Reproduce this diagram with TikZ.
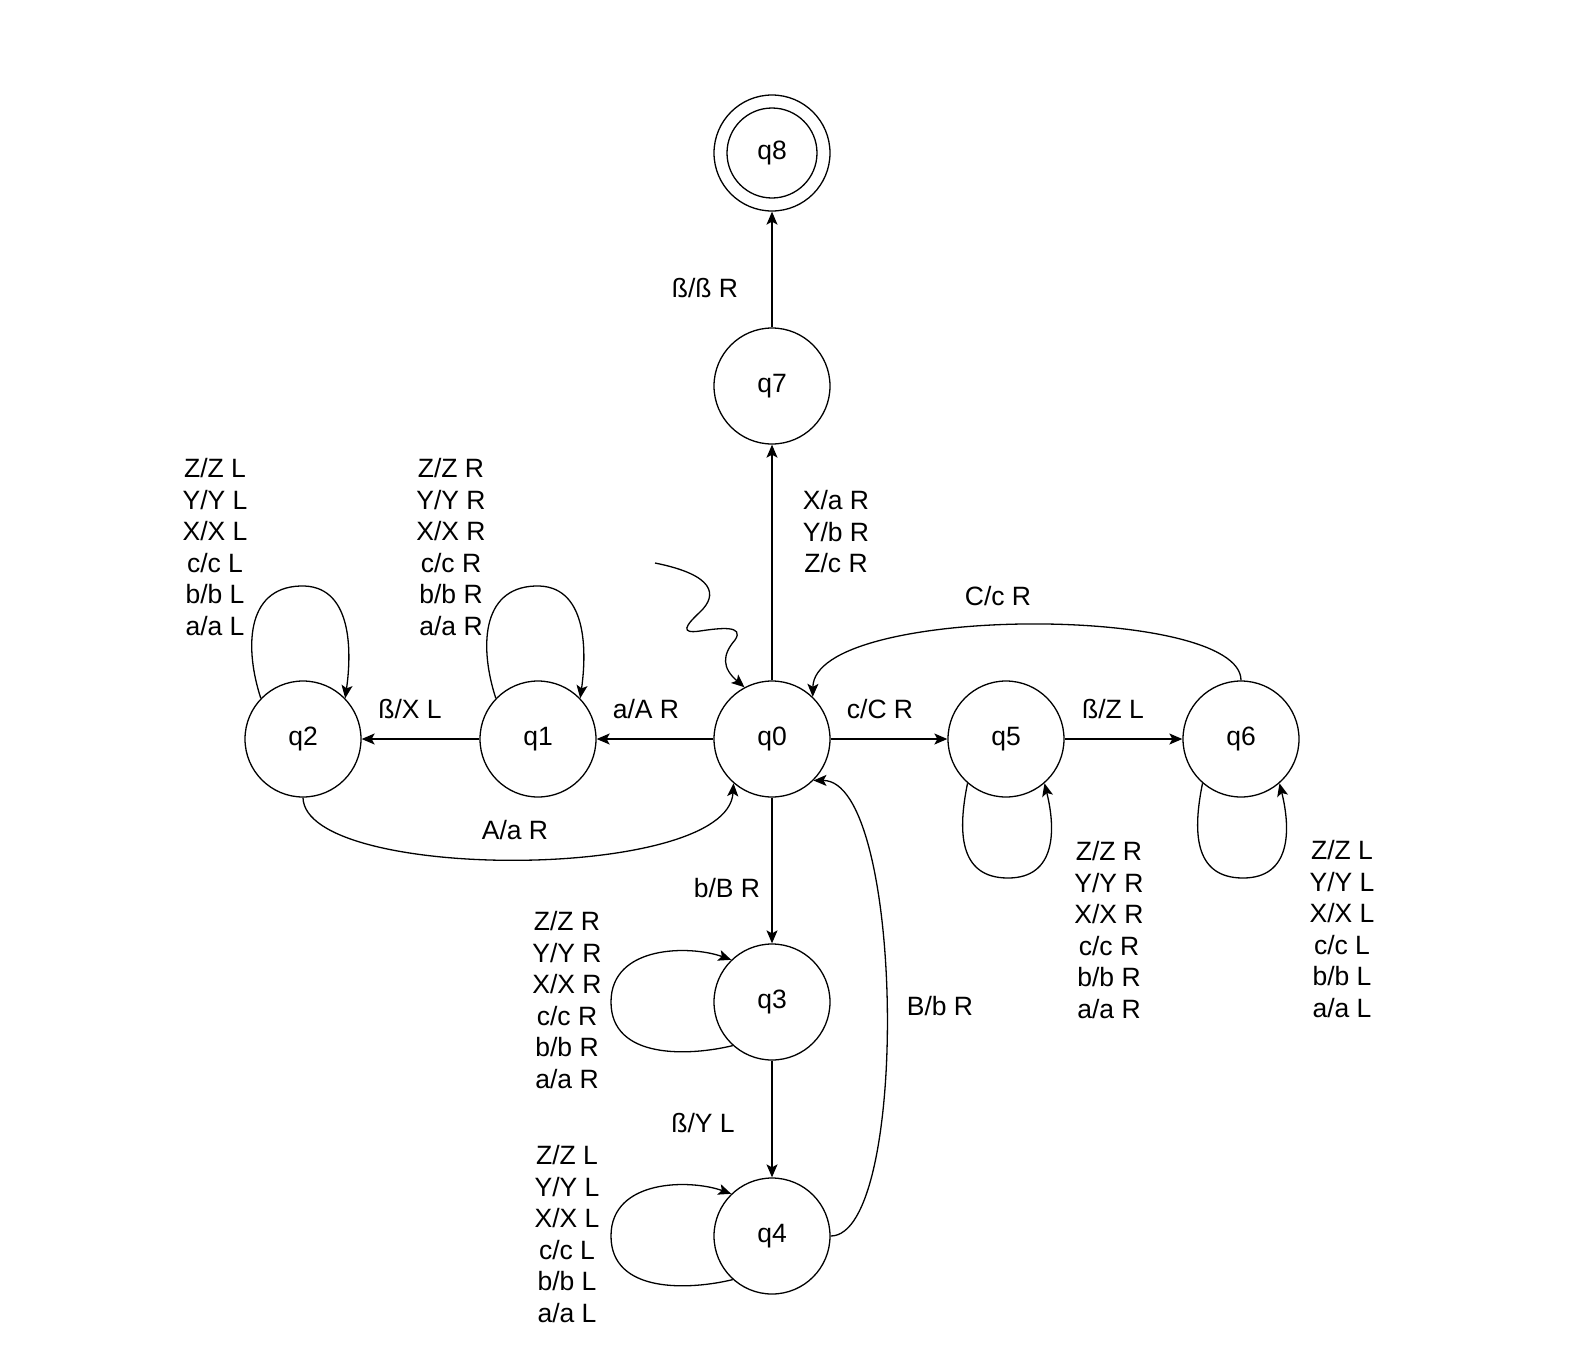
\documentclass[tikz,border=0pt]{standalone}
\usepackage{fontspec}
\setmainfont{Liberation Sans}
\usetikzlibrary{arrows.meta}

\tikzset{
  zustand/.style={draw, circle, minimum size=116pt, inner sep=0pt},
  beschr/.style={inner sep=0pt, align=center}
}

\begin{document}
\begin{tikzpicture}[x=1pt, y=-1pt, >={Stealth[length=13pt, width=11pt, inset=3pt]}, line width=1.3pt, font=\fontsize{26.5}{31.5}\selectfont]
			\useasboundingbox (0,0) rectangle (1576,1358);
			% Zustaende zeichnen
			\node[zustand] (q8) at (772,153) {q8};
			\draw (q8.center) circle[radius=45pt];
			\node[zustand] (q7) at (772,386) {q7};
			\node[zustand] (q0) at (772,739) {q0};
			\node[zustand] (q1) at (538,739) {q1};
			\node[zustand] (q2) at (303,739) {q2};
			\node[zustand] (q5) at (1006,739) {q5};
			\node[zustand] (q6) at (1241,739) {q6};
			\node[zustand] (q3) at (772,1002) {q3};
			\node[zustand] (q4) at (772,1236) {q4};
			% Startpfeil
			\coordinate (start) at (655,563);
			\draw[->] (start) .. controls (715,575) and (718,595) .. (700,612)
				.. controls (685,626) and (680,634) .. (700,631)
				.. controls (720,628) and (745,625) .. (735,640)
				.. controls (722,655) and (722,668) .. (q0.118);
			% Uebergaenge zeichnen
			\draw[->] (q0) -- (q7);
			\draw[->] (q7) -- (q8);
			\draw[->] (q0) -- (q1);
			\draw[->] (q1) -- (q2);
			\draw[->] (q0) -- (q5);
			\draw[->] (q5) -- (q6);
			\draw[->] (q0) -- (q3);
			\draw[->] (q3) -- (q4);
			\draw[->] (q2.south) .. controls (305,882) and (728,882) .. (q0.229);
			\draw[->] (q6.north) .. controls (1241,604) and (814,604) .. (q0.46);
			\draw[->] (q4.east) .. controls (910,1236) and (905,780) .. (q0.-45);
			% Schleifen
			\draw[->] (q2.136) .. controls (245,650) and (245,588) .. (300,586) .. controls (352,584) and (352,650) .. (q2.44);
			\draw[->] (q1.136) .. controls (480,650) and (480,588) .. (535,586) .. controls (587,584) and (587,650) .. (q1.44);
			\draw[->] (q3.228) .. controls (690,1056) and (611,1060) .. (611,1002) .. controls (611,945) and (690,945) .. (q3.134);
			\draw[->] (q4.228) .. controls (690,1290) and (611,1294) .. (611,1236) .. controls (611,1179) and (690,1179) .. (q4.134);
			\draw[->] (q5.229) .. controls (958,830) and (958,878) .. (1008,878) .. controls (1056,878) and (1056,830) .. (q5.311);
			\draw[->] (q6.229) .. controls (1193,830) and (1193,878) .. (1243,878) .. controls (1291,878) and (1291,830) .. (q6.311);
			% Beschriftung
			\node[beschr] (t78) at (705,288) {ß/ß R};
			\node[beschr] (t07) at (836,532) {X/a R\\Y/b R\\Z/c R};
			\node[beschr] (t60) at (998,596) {C/c R};
			\node[beschr] (t05) at (880,709) {c/C R};
			\node[beschr] (t56) at (1113,709) {ß/Z L};
			\node[beschr] (t01) at (646,709) {a/A R};
			\node[beschr] (t12) at (410,709) {ß/X L};
			\node[beschr] (t20) at (515,830) {A/a R};
			\node[beschr] (t03) at (727,888) {b/B R};
			\node[beschr] (t40) at (940,1006) {B/b R};
			\node[beschr] (t34) at (703,1123) {ß/Y L};
			\node[beschr] (t22) at (215,547) {Z/Z L\\Y/Y L\\X/X L\\c/c L\\b/b L\\a/a L};
			\node[beschr] (t11) at (451,547) {Z/Z R\\Y/Y R\\X/X R\\c/c R\\b/b R\\a/a R};
			\node[beschr] (t33) at (567,1000) {Z/Z R\\Y/Y R\\X/X R\\c/c R\\b/b R\\a/a R};
			\node[beschr] (t44) at (567,1234) {Z/Z L\\Y/Y L\\X/X L\\c/c L\\b/b L\\a/a L};
			\node[beschr] (t55) at (1109,930) {Z/Z R\\Y/Y R\\X/X R\\c/c R\\b/b R\\a/a R};
			\node[beschr] (t66) at (1342,929) {Z/Z L\\Y/Y L\\X/X L\\c/c L\\b/b L\\a/a L};
		\end{tikzpicture}
\end{document}
